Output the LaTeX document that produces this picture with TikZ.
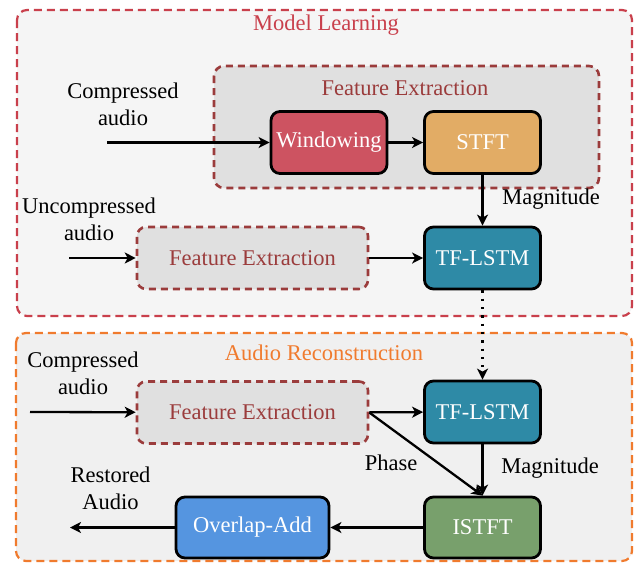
\documentclass[tikz,border=0pt]{standalone}
\usepackage{fontspec}
\setmainfont{Liberation Serif}
\usetikzlibrary{arrows.meta}
\definecolor{mlred}{HTML}{C9404C}
\definecolor{arorange}{HTML}{F07B2E}
\definecolor{fered}{HTML}{9B3C3C}
\definecolor{winfill}{HTML}{CD5361}
\definecolor{stftfill}{HTML}{E2AC65}
\definecolor{lstmfill}{HTML}{2E8AA6}
\definecolor{istftfill}{HTML}{78A06C}
\definecolor{olafill}{HTML}{5595E0}
\tikzset{
  every node/.style={font=\fontsize{22.5}{27}\selectfont, align=center, inner sep=0pt},
  group/.style={draw, line width=2.2pt, dash pattern=on 8pt off 5pt, rounded corners=10pt},
  block/.style={draw=black, line width=2.8pt, rounded corners=9pt, text=white, minimum width=116pt, minimum height=62pt},
  febox/.style={draw=fered, fill=black!12, line width=2.6pt, dash pattern=on 7pt off 5pt, rounded corners=9pt, text=fered, minimum width=231pt, minimum height=62pt},
  arr/.style={line width=2.3pt, -{Stealth[length=11pt,width=11pt,inset=3pt]}},
  lbl/.style={text=black}
}
\begin{document}
\begin{tikzpicture}[x=1pt,y=-1pt]
\useasboundingbox (0,0) rectangle (636,563);
% groups
\draw[group, draw=mlred, fill=black!4] (17,10) rectangle (632,316);
\node[text=mlred] (tml) at (326,25) {Model Learning};
\draw[group, draw=arorange, fill=black!6] (16,333) rectangle (632,561);
\node[text=arorange] (tar) at (324,353) {Audio Reconstruction};
% top feature extraction group
\draw[draw=fered, fill=black!12, line width=2.6pt, dash pattern=on 7pt off 5pt, rounded corners=10pt] (214,66) rectangle (599,188);
\node[text=fered] (tfe) at (405,88) {Feature Extraction};
% blocks
\node[block, fill=winfill] (win) at (329,142.5) {Windowing};
\node[block, fill=stftfill] (stft) at (482.5,142.5) {STFT};
\node[block, fill=lstmfill] (lstm1) at (482.5,258) {TF-LSTM};
\node[febox] (fe2) at (252.5,258) {Feature Extraction};
\node[block, fill=lstmfill] (lstm2) at (482.5,412) {TF-LSTM};
\node[febox] (fe3) at (252.5,412.5) {Feature Extraction};
\node[block, fill=istftfill, minimum height=61pt] (istft) at (482.5,527.5) {ISTFT};
\node[block, fill=olafill, minimum width=153pt, minimum height=61pt] (ola) at (252.5,527.5) {Overlap-Add};
% labels
\node[lbl] (ca1) at (123,104.5) {Compressed\\audio};
\node[lbl] (ua) at (89,219.5) {Uncompressed\\audio};
\node[lbl] (ca2) at (83,373.5) {Compressed\\audio};
\node[lbl] (ra) at (110.5,488.5) {Restored\\Audio};
\node[lbl] (mag1) at (551,199) {Magnitude};
\node[lbl] (mag2) at (550,468) {Magnitude};
\node[lbl] (ph) at (391,463) {Phase};
% coordinates
\coordinate (in1) at (107,142.5);
\coordinate (in2) at (69,258);
\coordinate (in3) at (30,412);
\coordinate (out) at (70,527.5);
% arrows
\draw[arr] (in1) -- (win);
\draw[arr] (win) -- (stft);
\draw[arr] (stft) -- (lstm1);
\draw[arr] (in2) -- (fe2);
\draw[arr] (fe2) -- (lstm1);
\draw[arr, dash pattern=on 2.3pt off 6pt] (lstm1) -- (lstm2);
\draw[arr] (in3) -- (fe3);
\draw[arr] (fe3) -- (lstm2);
\draw[arr] (fe3.east) -- (istft.north);
\draw[arr] (lstm2) -- (istft);
\draw[arr] (istft) -- (ola);
\draw[arr] (ola) -- (out);
\end{tikzpicture}
\end{document}
